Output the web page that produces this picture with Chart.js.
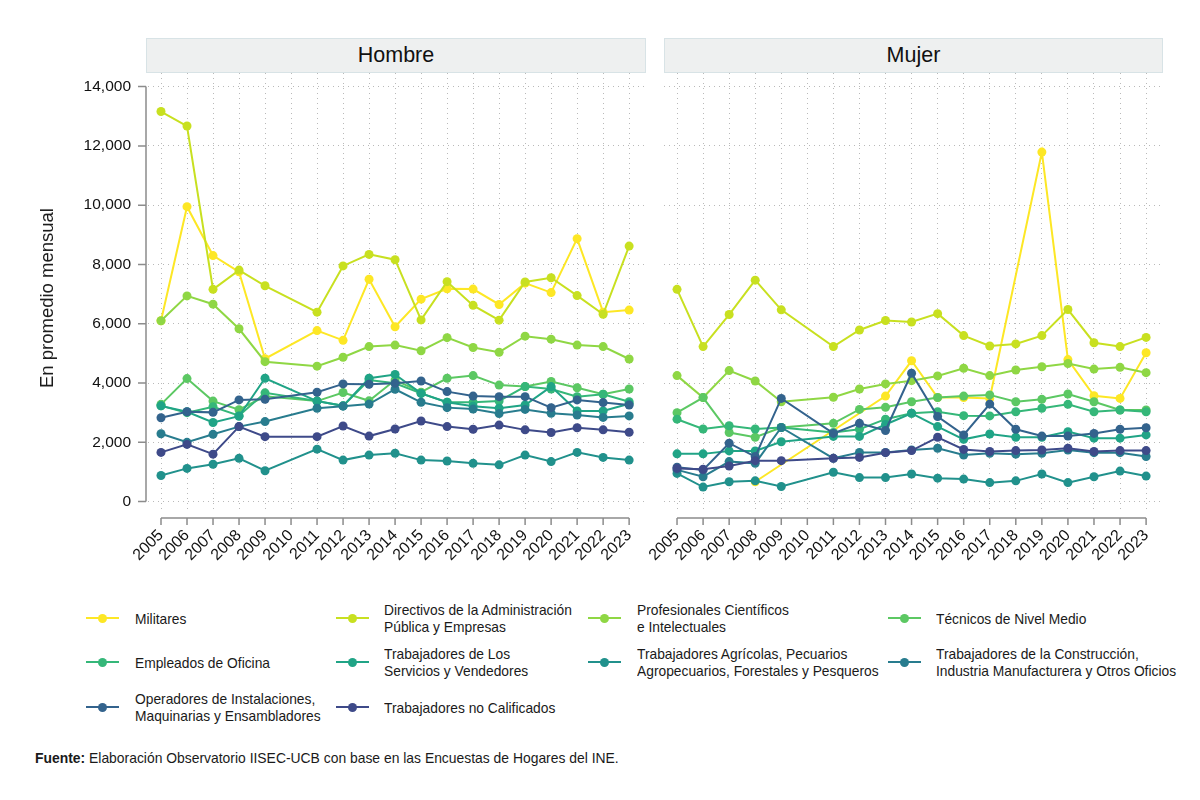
<!DOCTYPE html>
<html>
<head>
<meta charset="utf-8">
<script src="https://cdn.jsdelivr.net/npm/chart.js@4.4.1/dist/chart.umd.min.js"></script>
<style>
  body { margin: 0; background: #fff; }
  #wrap { position: relative; width: 1200px; height: 800px; overflow: hidden;
          font-family: 'Liberation Sans', Arial, sans-serif; color: #1a1a1a; }
  .panel { position: absolute; top: 0; height: 600px; }
  .strip { position: absolute; top: 38px; height: 33px; background: #eef0f0; border: 1px solid #d8e3e6;
           text-align: center; line-height: 33px; font-size: 21.5px; color: #111; }
  .ytitle { position: absolute; left: 47px; top: 298px; transform: translate(-50%, -50%) rotate(-90deg);
            white-space: nowrap; font-size: 18.5px; }
  .leg { position: absolute; font-size: 15px; line-height: 17px; white-space: pre;
         transform: scaleX(0.92); transform-origin: left center; }
  .legline { position: absolute; height: 2.5px; width: 33px; }
  .legdot { position: absolute; width: 9px; height: 9px; border-radius: 50%; }
  .foot { position: absolute; left: 35px; top: 750px; font-size: 13.9px; white-space: nowrap; }
</style>
</head>
<body>
<div id="wrap">
  <div class="panel" style="left:0;width:660px"><canvas id="hombre"></canvas></div>
  <div class="panel" style="left:600px;width:600px"><canvas id="mujer"></canvas></div>
  <div class="strip" style="left:146px;width:498px">Hombre</div>
  <div class="strip" style="left:664px;width:497px">Mujer</div>
  <div class="ytitle">En promedio mensual</div>
  <div id="legend"></div>
  <div class="foot"><b>Fuente:</b> Elaboración Observatorio IISEC-UCB con base en las Encuestas de Hogares del INE.</div>
</div>
<script>
// years with data (2010 has no survey), plus the axis ticks
const years = [2005, 2006, 2007, 2008, 2009, 2011, 2012, 2013, 2014, 2015, 2016, 2017, 2018, 2019, 2020, 2021, 2022, 2023];
const tickYears = [2005, 2006, 2007, 2008, 2009, 2010, 2011, 2012, 2013, 2014, 2015, 2016, 2017, 2018, 2019, 2020, 2021, 2022, 2023];
const yTicks = [0, 2000, 4000, 6000, 8000, 10000, 12000, 14000];

const categories = [
  "Militares",
  "Directivos de la Administración\nPública y Empresas",
  "Profesionales Científicos\ne Intelectuales",
  "Técnicos de Nivel Medio",
  "Empleados de Oficina",
  "Trabajadores de Los\nServicios y Vendedores",
  "Trabajadores Agrícolas, Pecuarios\nAgropecuarios, Forestales y Pesqueros",
  "Trabajadores de la Construcción,\nIndustria Manufacturera y Otros Oficios",
  "Operadores de Instalaciones,\nMaquinarias y Ensambladores",
  "Trabajadores no Calificados"
];
const colors = ["#fde725", "#c8e020", "#8fd744", "#5cc863", "#35b779", "#20a486", "#21918c", "#287c8e", "#33638d", "#3e4a89"];

// Hombre
const hMilitares     = [6100, 9950, 8300, 7750, 4820, 5770, 5440, 7500, 5900, 6830, 7180, 7170, 6650, 7370, 7050, 8870, 6390, 6460];
const hDirectivos    = [13160, 12670, 7160, 7810, 7280, 6390, 7950, 8340, 8160, 6130, 7420, 6620, 6120, 7410, 7550, 6950, 6320, 8620];
const hProfesionales = [6100, 6940, 6660, 5830, 4720, 4570, 4870, 5230, 5280, 5090, 5530, 5200, 5040, 5580, 5480, 5280, 5230, 4810];
const hTecnicos      = [3280, 4150, 3390, 3100, 3550, 3390, 3680, 3400, 4100, 3690, 4160, 4250, 3930, 3880, 4050, 3840, 3620, 3800];
const hEmpleados     = [3230, 3000, 3200, 2900, 3670, 3390, 3230, 4100, 3990, 3650, 3350, 3350, 3390, 3880, 3800, 3540, 3620, 3370];
const hServicios     = [3230, 3030, 2670, 2880, 4160, 3390, 3230, 4160, 4290, 3650, 3350, 3220, 3150, 3260, 3880, 3060, 3060, 3300];
const hAgricolas     = [880, 1120, 1260, 1460, 1040, 1770, 1400, 1570, 1630, 1400, 1370, 1290, 1240, 1570, 1350, 1660, 1490, 1400];
const hConstruccion  = [2290, 2000, 2270, 2530, 2700, 3150, 3220, 3290, 3790, 3350, 3170, 3120, 2970, 3110, 2980, 2920, 2840, 2890];
const hOperadores    = [2830, 3030, 3010, 3430, 3450, 3690, 3970, 3960, 3990, 4070, 3710, 3560, 3540, 3540, 3170, 3430, 3340, 3260];
const hNoCalif       = [1660, 1930, 1600, 2530, 2190, 2190, 2550, 2210, 2450, 2720, 2530, 2440, 2580, 2420, 2330, 2490, 2420, 2340];

// Mujer
const mMilitares     = [null, null, null, 670, null, null, null, 3560, 4750, 3510, 3510, 3480, null, 11790, 4790, 3570, 3480, 5020];
const mDirectivos    = [7160, 5230, 6310, 7470, 6470, 5230, 5790, 6110, 6060, 6340, 5600, 5250, 5320, 5600, 6480, 5360, 5230, 5540];
const mProfesionales = [4250, 3510, 4420, 4070, 3370, 3520, 3800, 3970, 4080, 4240, 4500, 4250, 4440, 4550, 4660, 4470, 4530, 4350];
const mTecnicos      = [3000, 3510, 2330, 2170, 2500, 2640, 3110, 3180, 3370, 3510, 3560, 3600, 3370, 3450, 3630, 3370, 3090, 3090];
const mEmpleados     = [2780, 2450, 2560, 2450, 2500, 2330, 2440, 2780, 2980, 3030, 2900, 2890, 3030, 3150, 3280, 3030, 3090, 3030];
const mServicios     = [1610, 1610, 1710, 1710, 2020, 2200, 2200, 2600, 2980, 2530, 2100, 2280, 2170, 2170, 2360, 2140, 2140, 2250];
const mAgricolas     = [950, 490, 670, 700, 510, 990, 810, 810, 930, 790, 760, 640, 700, 930, 640, 840, 1030, 860];
const mConstruccion  = [1070, 840, 1350, 1290, 2500, 1460, 1660, 1660, 1740, 1800, 1570, 1630, 1600, 1630, 1740, 1650, 1650, 1520];
const mOperadores    = [1160, 1070, 1970, 1520, 3480, 2300, 2640, 2400, 4330, 2870, 2250, 3290, 2440, 2210, 2210, 2300, 2440, 2490];
const mNoCalif       = [1120, 1090, 1200, 1380, 1380, 1460, 1490, 1650, 1720, 2170, 1760, 1690, 1720, 1740, 1800, 1690, 1720, 1720];

const hombreSeries = [hMilitares, hDirectivos, hProfesionales, hTecnicos, hEmpleados, hServicios, hAgricolas, hConstruccion, hOperadores, hNoCalif];
const mujerSeries = [mMilitares, mDirectivos, mProfesionales, mTecnicos, mEmpleados, mServicios, mAgricolas, mConstruccion, mOperadores, mNoCalif];

Chart.defaults.font.family = "'Liberation Sans', Arial, sans-serif";
Chart.defaults.color = "#1a1a1a";

// stata-like offset axes: line + ticks drawn below / left of the plot region
const stataAxes = {
  id: "stataAxes",
  afterDraw(chart, args, opts) {
    const { ctx, chartArea, scales: { x, y } } = chart;
    ctx.save();
    ctx.strokeStyle = "#8c8c8c";
    ctx.lineWidth = 1.5;
    ctx.beginPath();
    const yb = chartArea.bottom + 6;
    ctx.moveTo(x.getPixelForValue(2005), yb);
    ctx.lineTo(x.getPixelForValue(2023), yb);
    tickYears.forEach(t => {
      const px = x.getPixelForValue(t);
      ctx.moveTo(px, yb);
      ctx.lineTo(px, yb + 7);
    });
    if (opts.yAxis) {
      const xl = chartArea.left - 2;
      ctx.moveTo(xl, y.getPixelForValue(0));
      ctx.lineTo(xl, y.getPixelForValue(14000));
      yTicks.forEach(t => {
        const py = y.getPixelForValue(t);
        ctx.moveTo(xl - 8, py);
        ctx.lineTo(xl, py);
      });
    }
    ctx.stroke();
    ctx.restore();
  }
};

function makePanel(id, series, showY, padRight) {
  const datasets = series.map((vals, i) => ({
    label: categories[i].replace("\n", " "),
    data: years.map((yr, j) => ({ x: yr, y: vals[j] })),
    borderColor: colors[i],
    backgroundColor: colors[i],
    borderWidth: 2,
    pointRadius: 4.5,
    pointBorderWidth: 0,
    pointHoverRadius: 4.5,
    spanGaps: true,
    tension: 0,
    order: 10 - i
  }));
  return new Chart(document.getElementById(id), {
    type: "line",
    data: { datasets },
    options: {
      responsive: true,
      maintainAspectRatio: false,
      animation: false,
      events: [],
      layout: { padding: { top: 73, right: padRight, bottom: 0, left: 0 } },
      plugins: { legend: { display: false }, tooltip: { enabled: false }, stataAxes: { yAxis: showY } },
      scales: {
        x: {
          type: "linear",
          min: 2004.5,
          max: 2023.61,
          afterBuildTicks: s => { s.ticks = tickYears.map(v => ({ value: v })); },
          afterFit: s => { s.height = 88; },
          grid: { color: "#b9b9b9", lineWidth: 1, drawTicks: false },
          border: { display: false, dash: [1, 4] },
          ticks: {
            autoSkip: false,
            minRotation: 45, maxRotation: 45, padding: 14,
            font: { size: 16 }, color: "#111",
            callback: v => String(v)
          }
        },
        y: {
          min: -351,
          max: 14459,
          afterBuildTicks: s => { s.ticks = yTicks.map(v => ({ value: v })); },
          afterFit: s => { s.width = showY ? 148 : 64; },
          grid: { color: "#b9b9b9", lineWidth: 1, drawTicks: false },
          border: { display: false, dash: [1, 4] },
          ticks: {
            display: showY, padding: 17,
            font: { size: 15.5 }, color: "#111",
            callback: v => v.toLocaleString("en-US")
          }
        }
      }
    },
    plugins: [stataAxes]
  });
}

makePanel("hombre", hombreSeries, true, 15);
makePanel("mujer", mujerSeries, false, 38);

// legend, 4 columns
const legend = document.getElementById("legend");
const colLine = [86, 336, 588, 888];
const colText = [135, 384, 637, 936];
const rowY = [618, 662, 707];
categories.forEach((name, i) => {
  const c = i % 4, r = Math.floor(i / 4);
  const cy = rowY[r];
  const line = document.createElement("div");
  line.className = "legline";
  line.style.cssText = `left:${colLine[c]}px;top:${cy - 1.25}px;background:${colors[i]}`;
  const dot = document.createElement("div");
  dot.className = "legdot";
  dot.style.cssText = `left:${colLine[c] + 12}px;top:${cy - 4.5}px;background:${colors[i]}`;
  const txt = document.createElement("div");
  txt.className = "leg";
  const nLines = name.split("\n").length;
  txt.style.cssText = `left:${colText[c]}px;top:${cy - nLines * 17 / 2}px`;
  txt.textContent = name;
  legend.append(line, dot, txt);
});
</script>
</body>
</html>
